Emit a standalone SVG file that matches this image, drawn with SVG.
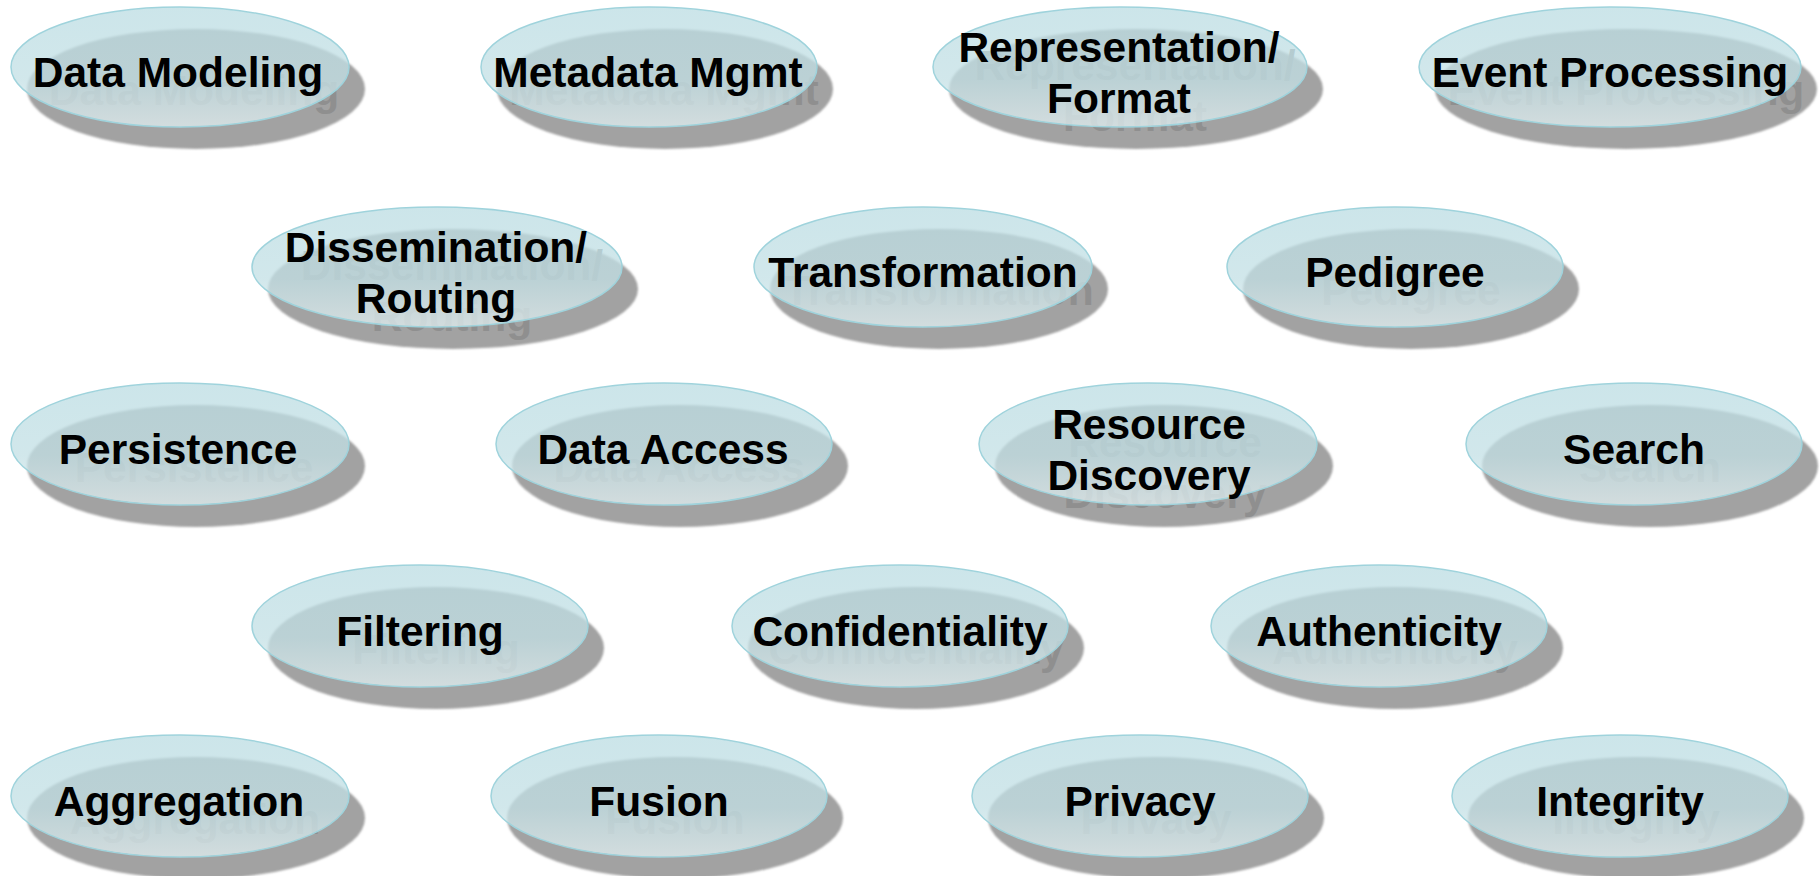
<svg xmlns="http://www.w3.org/2000/svg" width="1820" height="876" viewBox="0 0 1820 876">
<defs>
<linearGradient id="gl" x1="0" y1="0" x2="0" y2="1">
<stop offset="0" stop-color="#bcdde3"/>
<stop offset="0.6" stop-color="#c3e0e5"/>
<stop offset="1" stop-color="#e2eff1"/>
</linearGradient>
<filter id="soft" x="-10%" y="-20%" width="120%" height="140%"><feGaussianBlur stdDeviation="1.2"/></filter>
</defs>
<style>
.sh{fill:#a2a2a2;filter:url(#soft)}
.gt{fill:#8f8f8f;font-family:"Liberation Sans",Arial,sans-serif;font-weight:bold;font-size:42.5px;text-anchor:middle}
.el{fill:url(#gl);fill-opacity:0.76;stroke:#9fd3dc;stroke-width:1.5}
.tx{fill:#000;font-family:"Liberation Sans",Arial,sans-serif;font-weight:bold;font-size:42.5px;text-anchor:middle}
</style>
<rect width="1820" height="876" fill="#fff"/>
<g id="connectors"/>

<g id="n-data-modeling">
<ellipse class="sh" cx="196" cy="89" rx="169" ry="60"/>
<text class="gt" x="194" y="105">Data Modeling</text>
<ellipse class="el" cx="180" cy="67" rx="169" ry="60"/>
<text class="tx" x="178" y="87">Data Modeling</text>
</g>
<g id="n-metadata-mgmt">
<ellipse class="sh" cx="665" cy="89" rx="168" ry="60"/>
<text class="gt" x="664" y="105">Metadata Mgmt</text>
<ellipse class="el" cx="649" cy="67" rx="168" ry="60"/>
<text class="tx" x="648" y="87">Metadata Mgmt</text>
</g>
<g id="n-representation">
<ellipse class="sh" cx="1136" cy="89" rx="187" ry="60"/>
<text class="gt" x="1135" y="80">Representation/<tspan x="1135" dy="51">Format</tspan></text>
<ellipse class="el" cx="1120" cy="67" rx="187" ry="60"/>
<text class="tx" x="1119" y="62">Representation/<tspan x="1119" dy="51">Format</tspan></text>
</g>
<g id="n-event-processing">
<ellipse class="sh" cx="1626" cy="89" rx="191" ry="60"/>
<text class="gt" x="1626" y="105">Event Processing</text>
<ellipse class="el" cx="1610" cy="67" rx="191" ry="60"/>
<text class="tx" x="1610" y="87">Event Processing</text>
</g>

<g id="n-dissemination">
<ellipse class="sh" cx="453" cy="289" rx="185" ry="60"/>
<text class="gt" x="452" y="280">Dissemination/<tspan x="452" dy="51">Routing</tspan></text>
<ellipse class="el" cx="437" cy="267" rx="185" ry="60"/>
<text class="tx" x="436" y="262">Dissemination/<tspan x="436" dy="51">Routing</tspan></text>
</g>
<g id="n-transformation">
<ellipse class="sh" cx="939" cy="289" rx="169" ry="60"/>
<text class="gt" x="939" y="305">Transformation</text>
<ellipse class="el" cx="923" cy="267" rx="169" ry="60"/>
<text class="tx" x="923" y="287">Transformation</text>
</g>
<g id="n-pedigree">
<ellipse class="sh" cx="1411" cy="289" rx="168" ry="60"/>
<text class="gt" x="1411" y="305">Pedigree</text>
<ellipse class="el" cx="1395" cy="267" rx="168" ry="60"/>
<text class="tx" x="1395" y="287">Pedigree</text>
</g>

<g id="n-persistence">
<ellipse class="sh" cx="196" cy="466" rx="169" ry="61"/>
<text class="gt" x="194" y="482">Persistence</text>
<ellipse class="el" cx="180" cy="444" rx="169" ry="61"/>
<text class="tx" x="178" y="464">Persistence</text>
</g>
<g id="n-data-access">
<ellipse class="sh" cx="680" cy="466" rx="168" ry="61"/>
<text class="gt" x="679" y="482">Data Access</text>
<ellipse class="el" cx="664" cy="444" rx="168" ry="61"/>
<text class="tx" x="663" y="464">Data Access</text>
</g>
<g id="n-resource-discovery">
<ellipse class="sh" cx="1164" cy="466" rx="169" ry="61"/>
<text class="gt" x="1165" y="457">Resource<tspan x="1165" dy="51">Discovery</tspan></text>
<ellipse class="el" cx="1148" cy="444" rx="169" ry="61"/>
<text class="tx" x="1149" y="439">Resource<tspan x="1149" dy="51">Discovery</tspan></text>
</g>
<g id="n-search">
<ellipse class="sh" cx="1650" cy="466" rx="168" ry="61"/>
<text class="gt" x="1650" y="482">Search</text>
<ellipse class="el" cx="1634" cy="444" rx="168" ry="61"/>
<text class="tx" x="1634" y="464">Search</text>
</g>

<g id="n-filtering">
<ellipse class="sh" cx="436" cy="648" rx="168" ry="61"/>
<text class="gt" x="436" y="664">Filtering</text>
<ellipse class="el" cx="420" cy="626" rx="168" ry="61"/>
<text class="tx" x="420" y="646">Filtering</text>
</g>
<g id="n-confidentiality">
<ellipse class="sh" cx="916" cy="648" rx="168" ry="61"/>
<text class="gt" x="916" y="664">Confidentiality</text>
<ellipse class="el" cx="900" cy="626" rx="168" ry="61"/>
<text class="tx" x="900" y="646">Confidentiality</text>
</g>
<g id="n-authenticity">
<ellipse class="sh" cx="1395" cy="648" rx="168" ry="61"/>
<text class="gt" x="1395" y="664">Authenticity</text>
<ellipse class="el" cx="1379" cy="626" rx="168" ry="61"/>
<text class="tx" x="1379" y="646">Authenticity</text>
</g>

<g id="n-aggregation">
<ellipse class="sh" cx="196" cy="818" rx="169" ry="61"/>
<text class="gt" x="195" y="834">Aggregation</text>
<ellipse class="el" cx="180" cy="796" rx="169" ry="61"/>
<text class="tx" x="179" y="816">Aggregation</text>
</g>
<g id="n-fusion">
<ellipse class="sh" cx="675" cy="818" rx="168" ry="61"/>
<text class="gt" x="675" y="834">Fusion</text>
<ellipse class="el" cx="659" cy="796" rx="168" ry="61"/>
<text class="tx" x="659" y="816">Fusion</text>
</g>
<g id="n-privacy">
<ellipse class="sh" cx="1156" cy="818" rx="168" ry="61"/>
<text class="gt" x="1156" y="834">Privacy</text>
<ellipse class="el" cx="1140" cy="796" rx="168" ry="61"/>
<text class="tx" x="1140" y="816">Privacy</text>
</g>
<g id="n-integrity">
<ellipse class="sh" cx="1636" cy="818" rx="168" ry="61"/>
<text class="gt" x="1636" y="834">Integrity</text>
<ellipse class="el" cx="1620" cy="796" rx="168" ry="61"/>
<text class="tx" x="1620" y="816">Integrity</text>
</g>
</svg>
